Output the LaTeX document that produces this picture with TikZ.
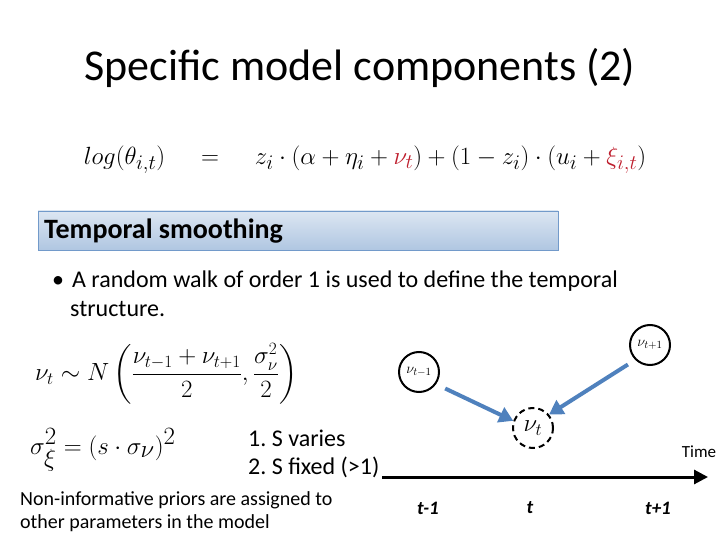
\documentclass[tikz,border=0pt]{standalone}
\usepackage{amsmath}
\usepackage{fontspec}
\setmainfont{Carlito}
\usetikzlibrary{arrows.meta}
\definecolor{myblue}{RGB}{79,129,189}
\definecolor{eqred}{RGB}{190,30,45}
\tikzset{circ/.style={circle,draw,line width=2pt,minimum size=40pt,inner sep=0pt,font=\fontsize{15}{15}\selectfont},
bluearrow/.style={draw=myblue,line width=4pt,-{Triangle[length=14pt,width=16pt]}},
txt/.style={anchor=west,inner sep=0pt,font=\fontsize{24}{28}\selectfont}}
\begin{document}
\begin{tikzpicture}[x=1pt,y=-1pt]
\useasboundingbox (0,0) rectangle (720,540);
\node (title) at (360,68) {\fontsize{44}{48}\selectfont Specific model components (2)};
\node (eq) at (365,160) {\fontsize{29}{32}\selectfont $log(\theta_{i,t}) \quad = \quad z_i\cdot(\alpha+\eta_i+{\color{eqred}\nu_t})+(1-z_i)\cdot(u_i+{\color{eqred}\xi_{i,t}})$};
\shade[top color=myblue!20,bottom color=myblue!45,draw=myblue!80] (38,211) rectangle (558,250);
\node[txt,font=\fontsize{28}{30}\selectfont\bfseries] (ts) at (44,231) {Temporal smoothing};
\node[txt] (b1) at (52,281) {•\hspace{8pt}A random walk of order 1 is used to define the temporal};
\node[txt] (b2) at (70,309) {structure.};
\node[anchor=west,inner sep=0pt] (nu) at (35,374) {\fontsize{26}{28}\selectfont $\nu_t\sim N\left(\dfrac{\nu_{t-1}+\nu_{t+1}}{2},\dfrac{\sigma_\nu^2}{2}\right)$};
\node[anchor=west,inner sep=0pt] (sig) at (30,450) {\fontsize{33}{34}\selectfont $\sigma_\xi^2=(s\cdot\sigma_\nu)^2$};
\node[txt] (l1) at (248,438) {1.\ S varies};
\node[txt] (l2) at (248,467) {2.\ S fixed (>1)};
\node[txt,font=\fontsize{20}{23}\selectfont,align=left] (np) at (20,512) {Non-informative priors are assigned to\\other parameters in the model};
\node[circ] (a) at (419,372) {$\nu_{t-1}$};
\node[circ] (c) at (650,345) {$\nu_{t+1}$};
\node[circ,dashed,dash pattern=on 6pt off 4pt,font=\fontsize{23}{23}\selectfont] (b) at (533,428) {$\nu_t$};
\draw[bluearrow] (a.-30)++(8,6) -- (b.160);
\draw[bluearrow] (c.-140)++(-6,6) -- (b.40);
\coordinate (ts0) at (382,477);
\coordinate (ts1) at (708,477);
\draw[line width=3pt,-{Triangle[length=14pt,width=14pt]}] (ts0) -- (ts1);
\node[font=\fontsize{17}{17}\selectfont] (time) at (699,452) {Time};
\node[font=\fontsize{19}{19}\selectfont\bfseries\itshape] (t0) at (428,508) {t-1};
\node[font=\fontsize{19}{19}\selectfont\bfseries\itshape] (t1) at (530,508) {t};
\node[font=\fontsize{19}{19}\selectfont\bfseries\itshape] (t2) at (658,508) {t+1};
\end{tikzpicture}
\end{document}
